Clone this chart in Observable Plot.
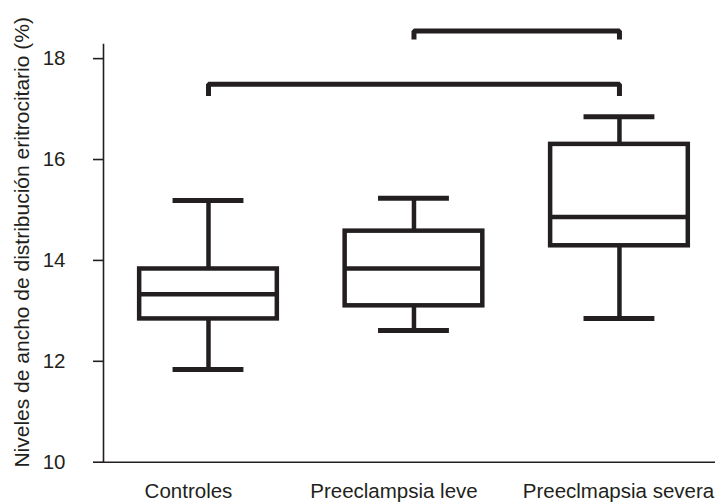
<!DOCTYPE html>
<html>
<head>
<meta charset="utf-8">
<script src="https://cdn.jsdelivr.net/npm/d3@7"></script>
<script src="https://cdn.jsdelivr.net/npm/@observablehq/plot@0.6"></script>
<style>
  html, body { margin: 0; padding: 0; background: #fff; }
  #chart svg { display: block; }
</style>
</head>
<body>
<div id="chart"></div>
<script>
// Categories
const categories = ["Controles", "Preeclampsia leve", "Preeclmapsia severa"];
// Box statistics
const whiskerLow  = [11.84, 12.61, 12.85];
const q1          = [12.84, 13.10, 14.29];
const median      = [13.33, 13.84, 14.86];
const q3          = [13.83, 14.58, 16.30];
const whiskerHigh = [15.19, 15.23, 16.85];
// Y ticks
const yTicks = [10, 12, 14, 16, 18];
// Significance brackets: from category, to category, level, leg end
const bracketFrom = ["Controles", "Preeclampsia leve"];
const bracketTo   = ["Preeclmapsia severa", "Preeclmapsia severa"];
const bracketTop  = [17.49, 18.55];
const bracketLeg  = [17.26, 18.38];

const yLabel = "Niveles de ancho de distribución eritrocitario (%)";

const boxes = categories.map((c, i) => ({
  cat: c, lo: whiskerLow[i], q1: q1[i], med: median[i], q3: q3[i], hi: whiskerHigh[i]
}));
const bracketPts = bracketFrom.flatMap((f, i) => [
  {b: i, cat: f, y: bracketLeg[i]},
  {b: i, cat: f, y: bracketTop[i]},
  {b: i, cat: bracketTo[i], y: bracketTop[i]},
  {b: i, cat: bracketTo[i], y: bracketLeg[i]}
]);

const ink = "#231f20";
const font = "'Liberation Sans', Arial, Helvetica, sans-serif";
const fs = 20.5;

const chart = Plot.plot({
  width: 715,
  height: 503,
  marginLeft: 103,
  marginRight: 0,
  marginTop: 44,
  marginBottom: 41.3,
  style: {fontFamily: font, fontSize: fs + "px", color: ink, background: "#fff"},
  x: {
    type: "band",
    domain: categories,
    range: [71.35, 755.6],
    paddingInner: 0.33,
    paddingOuter: 0.33,
    round: false,
    label: null
  },
  y: {domain: [10, 18.28], label: null},
  marks: [
    Plot.frame({anchor: "left", stroke: ink, strokeWidth: 1.6}),
    Plot.frame({anchor: "bottom", stroke: ink, strokeWidth: 1.6}),
    Plot.axisY({ticks: yTicks, tickSize: 10, tickPadding: 28, stroke: ink, strokeWidth: 1.6, label: null, fontSize: fs, fill: ink}),
    Plot.axisX({ticks: categories.slice(0, 2), tickSize: 0, tickPadding: 21, dx: -20, label: null, fontSize: fs, fill: ink}),
    Plot.axisX({ticks: categories.slice(2), tickSize: 0, tickPadding: 21, dx: -1, label: null, fontSize: fs, fill: ink}),
    Plot.barY(boxes, {x: "cat", y1: "q1", y2: "q3", fill: "none", stroke: ink, strokeWidth: 4.5}),
    Plot.tickY(boxes, {x: "cat", y: "med", stroke: ink, strokeWidth: 4.5}),
    Plot.ruleX(boxes, {x: "cat", y1: "q3", y2: "hi", stroke: ink, strokeWidth: 4.5}),
    Plot.ruleX(boxes, {x: "cat", y1: "lo", y2: "q1", stroke: ink, strokeWidth: 4.5}),
    Plot.tickY(boxes, {x: "cat", y: "hi", stroke: ink, strokeWidth: 5, insetLeft: 33.4, insetRight: 33.4}),
    Plot.tickY(boxes, {x: "cat", y: "lo", stroke: ink, strokeWidth: 5, insetLeft: 33.4, insetRight: 33.4}),
    Plot.line(bracketPts, {x: "cat", y: "y", z: "b", stroke: ink, strokeWidth: 5, strokeLinejoin: "miter", strokeLinecap: "butt", curve: "linear"}),
    Plot.text([yLabel], {text: d => d, frameAnchor: "left", textAnchor: "middle", lineAnchor: "middle", rotate: -90, dx: -81, dy: -11, fontSize: 21, fill: ink})
  ]
});
document.getElementById("chart").appendChild(chart);
</script>
</body>
</html>
